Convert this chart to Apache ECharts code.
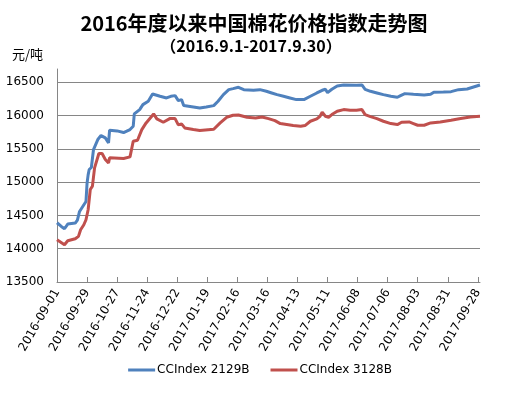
<!DOCTYPE html>
<html>
<head>
<meta charset="utf-8">
<script src="https://cdn.jsdelivr.net/npm/echarts@6/dist/echarts.min.js"></script>
<style>
  html, body { margin: 0; padding: 0; background: #fff; }
  #chart { width: 520px; height: 397px; }
</style>
</head>
<body>
<div id="chart"></div>
<script>
// day offsets counted from 2016-09-01
const startDate = "2016-09-01";
const lastDay = 394; // 2017-09-30
const tickStep = 28;

const days2129B = [0, 4, 7, 10, 17, 19, 21, 24, 27, 28, 29, 30, 32, 34, 38, 41, 45, 48, 49, 56, 62, 68, 71, 72, 77, 80, 85, 89, 96, 102, 106, 110, 113, 116, 118, 127, 133, 139, 146, 150, 155, 160, 164, 169, 174, 183, 189, 195, 200, 205, 211, 217, 223, 230, 236, 242, 247, 250, 252, 256, 261, 267, 279, 284, 287, 292, 298, 304, 311, 317, 320, 324, 332, 342, 348, 351, 360, 367, 374, 382, 388, 394];
const index2129B = [14390, 14335, 14300, 14370, 14385, 14430, 14560, 14635, 14710, 14985, 15110, 15190, 15220, 15490, 15640, 15700, 15665, 15590, 15780, 15770, 15745, 15790, 15840, 16025, 16090, 16165, 16215, 16325, 16290, 16265, 16290, 16300, 16225, 16240, 16150, 16130, 16115, 16130, 16150, 16215, 16315, 16390, 16405, 16425, 16390, 16380, 16390, 16365, 16340, 16315, 16290, 16265, 16240, 16240, 16290, 16340, 16380, 16395, 16345, 16395, 16445, 16460, 16455, 16460, 16395, 16365, 16340, 16315, 16290, 16275, 16300, 16330, 16320, 16310, 16320, 16350, 16355, 16360, 16390, 16400, 16430, 16460];

const days3128B = [0, 7, 10, 17, 20, 22, 25, 27, 29, 31, 33, 35, 39, 42, 45, 48, 49, 62, 68, 71, 75, 79, 83, 90, 93, 99, 105, 110, 113, 116, 119, 127, 133, 146, 152, 158, 164, 169, 177, 185, 191, 197, 203, 208, 214, 220, 227, 231, 236, 242, 245, 247, 250, 253, 256, 261, 267, 273, 279, 284, 287, 292, 298, 304, 311, 317, 321, 328, 332, 336, 342, 348, 357, 367, 376, 385, 394];
const index3128B = [14135, 14060, 14120, 14150, 14185, 14285, 14360, 14435, 14585, 14890, 14940, 15215, 15430, 15430, 15340, 15290, 15365, 15355, 15380, 15615, 15630, 15790, 15890, 16025, 15950, 15900, 15955, 15955, 15860, 15875, 15815, 15790, 15775, 15795, 15890, 15975, 16005, 16010, 15975, 15965, 15980, 15955, 15925, 15880, 15865, 15850, 15840, 15850, 15915, 15950, 15990, 16050, 15990, 15975, 16015, 16065, 16090, 16080, 16080, 16090, 16015, 15985, 15955, 15915, 15880, 15865, 15900, 15905, 15880, 15855, 15855, 15890, 15905, 15930, 15955, 15980, 15990];

const seriesNames = ["CCIndex 2129B", "CCIndex 3128B"];
const seriesColors = ["#4F81BD", "#C0504D"];

const baseFont = "DejaVu Sans";
const cjkFont = "Noto Sans CJK SC";

function dayLabel(d) {
  const t = new Date(startDate + "T00:00:00Z").getTime() + d * 86400000;
  return new Date(t).toISOString().slice(0, 10);
}

const chart = echarts.init(document.getElementById("chart"), null, { renderer: "canvas" });

const option = {
  animation: false,
  title: [
    {
      text: "2016年度以来中国棉花价格指数走势图",
      left: 249, top: 8, textAlign: "center",
      textStyle: { fontFamily: cjkFont, fontSize: 20, fontWeight: "bold", color: "#000" },
    },
    {
      text: "（2016.9.1-2017.9.30）",
      left: 246, top: 33, textAlign: "center",
      textStyle: { fontFamily: cjkFont, fontSize: 16, fontWeight: "bold", color: "#000" },
    },
  ],
  legend: {
    data: seriesNames,
    bottom: 16,
    left: "center",
    itemWidth: 27,
    itemHeight: 3,
    itemGap: 21,
    icon: "rect",
    textStyle: { fontFamily: baseFont, fontSize: 12, color: "#000", padding: [0, 0, 0, -3] },
  },
  grid: { left: 57, right: 40, top: 69, bottom: 115, containLabel: false },
  xAxis: {
    type: "value",
    min: 0,
    max: lastDay,
    interval: tickStep,
    axisLine: { lineStyle: { color: "#868686", width: 1 } },
    axisTick: { inside: true, length: 5, lineStyle: { color: "#868686" } },
    splitLine: { show: false },
    axisLabel: {
      rotate: 60,
      margin: 8,
      showMaxLabel: false,
      fontFamily: baseFont,
      fontSize: 12,
      color: "#000",
      formatter: (v) => dayLabel(v),
    },
  },
  yAxis: {
    type: "value",
    name: "元/吨",
    nameLocation: "end",
    nameGap: 8,
    nameTextStyle: { fontFamily: cjkFont, fontSize: 13, color: "#000", align: "right", padding: [0, 14, 0, 0] },
    min: 13500,
    max: 16700,
    interval: 500,
    axisLine: { show: true, lineStyle: { color: "#868686", width: 1 } },
    axisTick: { show: false },
    axisLabel: {
      showMaxLabel: false, margin: 13, fontFamily: baseFont, fontSize: 12, color: "#000",
      formatter: (v) => String(v),
    },
    splitLine: { show: true, showMaxLine: false, lineStyle: { color: "#868686", width: 1 } },
  },
  series: [
    {
      name: seriesNames[0],
      type: "line",
      data: days2129B.map((d, i) => [d, index2129B[i]]),
      symbol: "none",
      lineStyle: { width: 3, color: seriesColors[0] },
      itemStyle: { color: seriesColors[0] },
    },
    {
      name: seriesNames[1],
      type: "line",
      data: days3128B.map((d, i) => [d, index3128B[i]]),
      symbol: "none",
      lineStyle: { width: 3, color: seriesColors[1] },
      itemStyle: { color: seriesColors[1] },
    },
  ],
};

chart.setOption(option);
</script>
</body>
</html>
